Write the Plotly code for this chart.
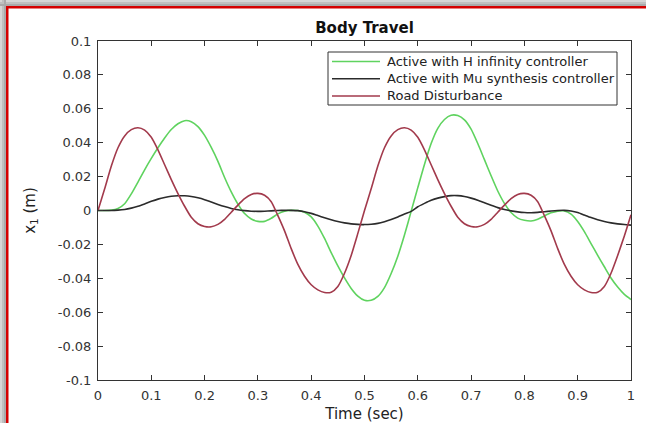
import plotly.graph_objects as go

# ---- data ----
time_s = [0.0, 0.0125, 0.025, 0.0375, 0.05, 0.0625, 0.075, 0.0875, 0.1, 0.1125,
          0.125, 0.1375, 0.15, 0.1625, 0.175, 0.1875, 0.2, 0.2125, 0.225, 0.2375,
          0.25, 0.2625, 0.275, 0.2875, 0.3, 0.3125, 0.325, 0.3375, 0.35, 0.3625,
          0.375, 0.3875, 0.4, 0.4125, 0.425, 0.4375, 0.45, 0.4625, 0.475, 0.4875,
          0.5, 0.5125, 0.525, 0.5375, 0.55, 0.5625, 0.575, 0.5875, 0.6, 0.6125,
          0.625, 0.6375, 0.65, 0.6625, 0.675, 0.6875, 0.7, 0.7125, 0.725, 0.7375,
          0.75, 0.7625, 0.775, 0.7875, 0.8, 0.8125, 0.825, 0.8375, 0.85, 0.8625,
          0.875, 0.8875, 0.9, 0.9125, 0.925, 0.9375, 0.95, 0.9625, 0.975, 0.9875,
          1.0]

h_inf = [0.0000, 0.0000, 0.0002, 0.0012, 0.0040, 0.0098, 0.0168, 0.0240, 0.0307, 0.0370,
         0.0428, 0.0478, 0.0512, 0.0530, 0.0524, 0.0495, 0.0443, 0.0372, 0.0290, 0.0195,
         0.0110, 0.0038, -0.0018, -0.0050, -0.0064, -0.0064, -0.0046, -0.0020, -0.0004, 0.0001,
         0.0000, -0.0010, -0.0038, -0.0092, -0.0165, -0.0248, -0.0327, -0.0398, -0.0460, -0.0505,
         -0.0530, -0.0530, -0.0507, -0.0455, -0.0372, -0.0270, -0.0145, -0.0005, 0.0135, 0.0272,
         0.0395, 0.0485, 0.0537, 0.0562, 0.0560, 0.0535, 0.0480, 0.0395, 0.0300, 0.0205,
         0.0115, 0.0042, -0.0012, -0.0045, -0.0058, -0.0062, -0.0052, -0.0032, -0.0014, -0.0004,
         -0.0003, -0.0022, -0.0065, -0.0125, -0.0195, -0.0265, -0.0332, -0.0398, -0.0452, -0.0495,
         -0.0525]

mu_syn = [0.0000, 0.0000, 0.0000, 0.0002, 0.0006, 0.0014, 0.0025, 0.0039, 0.0054, 0.0067,
          0.0077, 0.0084, 0.0087, 0.0087, 0.0083, 0.0075, 0.0064, 0.0050, 0.0036, 0.0023,
          0.0012, 0.0004, -0.0001, -0.0004, -0.0005, -0.0004, -0.0002, 0.0000, 0.0001, 0.0001,
          -0.0001, -0.0007, -0.0017, -0.0030, -0.0043, -0.0055, -0.0065, -0.0073, -0.0079, -0.0082,
          -0.0083, -0.0081, -0.0076, -0.0066, -0.0053, -0.0038, -0.0021, -0.0005, 0.0022, 0.0042,
          0.0060, 0.0073, 0.0082, 0.0088, 0.0088, 0.0083, 0.0073, 0.0061, 0.0046, 0.0031,
          0.0017, 0.0006, -0.0002, -0.0008, -0.0012, -0.0013, -0.0011, -0.0007, -0.0003, 0.0000,
          0.0001, -0.0003, -0.0012, -0.0027, -0.0042, -0.0055, -0.0065, -0.0073, -0.0079, -0.0083,
          -0.0086]

road = [0.0000, 0.0128, 0.0262, 0.0370, 0.0440, 0.0477, 0.0488, 0.0474, 0.0432, 0.0358,
        0.0270, 0.0182, 0.0100, 0.0025, -0.0040, -0.0078, -0.0094, -0.0096, -0.0082, -0.0052,
        -0.0010, 0.0032, 0.0070, 0.0095, 0.0101, 0.0090, 0.0052, -0.0030, -0.0120, -0.0225,
        -0.0318, -0.0388, -0.0438, -0.0468, -0.0484, -0.0482, -0.0448, -0.0370, -0.0265, -0.0135,
        0.0000, 0.0128, 0.0262, 0.0370, 0.0440, 0.0477, 0.0488, 0.0474, 0.0432, 0.0358,
        0.0270, 0.0182, 0.0100, 0.0025, -0.0040, -0.0078, -0.0094, -0.0096, -0.0082, -0.0052,
        -0.0010, 0.0032, 0.0070, 0.0095, 0.0101, 0.0090, 0.0052, -0.0030, -0.0120, -0.0225,
        -0.0318, -0.0388, -0.0438, -0.0468, -0.0484, -0.0482, -0.0448, -0.0370, -0.0265, -0.0150,
        -0.0025]

series_names = ["Active with H infinity controller",
                "Active with Mu synthesis controller",
                "Road Disturbance"]

x_tick_vals = [0, 0.1, 0.2, 0.3, 0.4, 0.5, 0.6, 0.7, 0.8, 0.9, 1]
x_tick_text = ["0", "0.1", "0.2", "0.3", "0.4", "0.5", "0.6", "0.7", "0.8", "0.9", "1"]
y_tick_vals = [0.1, 0.08, 0.06, 0.04, 0.02, 0, -0.02, -0.04, -0.06, -0.08, -0.1]
y_tick_text = ["0.1", "0.08", "0.06", "0.04", "0.02", "0", "-0.02", "-0.04", "-0.06", "-0.08", "-0.1"]

# ---- layout geometry (pixels) ----
W, H = 646, 423
L, R, T, B = 98, 15, 41, 43
PW, PH = W - L - R, H - T - B


def px(xp):
    return (xp - L) / PW


def py(yp):
    return (H - B - yp) / PH


FONT = "DejaVu Sans"
AX = "#333333"
colors = ["#5fd35f", "#2b2b2b", "#a23a4c"]

fig = go.Figure()
for name, vals, col in zip(series_names, [h_inf, mu_syn, road], colors):
    fig.add_trace(go.Scatter(x=time_s, y=vals, mode="lines", name=name,
                             line=dict(color=col, width=1.6, shape="spline", smoothing=0.6)))

axis_common = dict(showgrid=False, zeroline=False, showline=True, linecolor=AX, linewidth=1,
                   mirror="ticks", ticks="inside", ticklen=5, tickcolor=AX, tickwidth=1,
                   automargin=False, ticklabelstandoff=3,
                   tickfont=dict(family=FONT, size=13, color=AX))

fig.update_xaxes(range=[0, 1], tickvals=x_tick_vals, ticktext=x_tick_text,
                 title=dict(text="Time (sec)", font=dict(family=FONT, size=15, color="#222"), standoff=7),
                 **axis_common)
fig.update_yaxes(range=[-0.1, 0.1], tickvals=y_tick_vals, ticktext=y_tick_text,
                 title=dict(text="x<sub>1</sub> (m)", font=dict(family=FONT, size=15, color="#222"), standoff=18),
                 **axis_common)

# frame: gray shading and red line at top / left edges
shapes = []
bands = [(0, 2, "#d6d6d6"), (2, 4, "#c0c0c0"), (4, 6, "#aaaaaa")]
for a, b, c in bands:
    shapes.append(dict(type="rect", xref="paper", yref="paper", x0=px(0), x1=px(W),
                       y0=py(b), y1=py(a), fillcolor=c, line=dict(width=0), layer="above"))
    shapes.append(dict(type="rect", xref="paper", yref="paper", x0=px(a), x1=px(b),
                       y0=py(H), y1=py(0), fillcolor=c, line=dict(width=0), layer="above"))
shapes.append(dict(type="rect", xref="paper", yref="paper", x0=px(6), x1=px(W),
                   y0=py(8.5), y1=py(6), fillcolor="#d40000", line=dict(width=0), layer="above"))
shapes.append(dict(type="rect", xref="paper", yref="paper", x0=px(6), x1=px(8.5),
                   y0=py(H), y1=py(6), fillcolor="#d40000", line=dict(width=0), layer="above"))

# legend box drawn by hand (MATLAB-like spacing)
leg_left, leg_right, leg_top, leg_bottom = 328, 617, 52, 105
shapes.append(dict(type="rect", xref="paper", yref="paper", x0=px(leg_left), x1=px(leg_right),
                   y0=py(leg_bottom), y1=py(leg_top), fillcolor="white",
                   line=dict(color=AX, width=1), layer="above"))
row_y = [61.5, 78.8, 96]
annotations = []
for name, col, yy in zip(series_names, colors, row_y):
    shapes.append(dict(type="line", xref="paper", yref="paper", x0=px(332), x1=px(380),
                       y0=py(yy), y1=py(yy), line=dict(color=col, width=1.6), layer="above"))
    annotations.append(dict(text=name, xref="paper", yref="paper", x=px(385), y=py(yy),
                            xanchor="left", yanchor="middle", showarrow=False,
                            font=dict(family=FONT, size=13, color="#222")))

fig.update_layout(
    width=W, height=H,
    margin=dict(l=L, r=R, t=T, b=B),
    paper_bgcolor="white", plot_bgcolor="white",
    title=dict(text="<b>Body Travel</b>", x=0.5, xref="paper", y=1 - 27.5 / H, yanchor="middle",
               xanchor="center", font=dict(family=FONT, size=15, color="#111")),
    shapes=shapes,
    annotations=annotations,
    showlegend=False,
)

fig.write_html("out.html", config={"displayModeBar": False},
               post_script="document.body.style.margin='0px';document.body.style.overflow='hidden';")
